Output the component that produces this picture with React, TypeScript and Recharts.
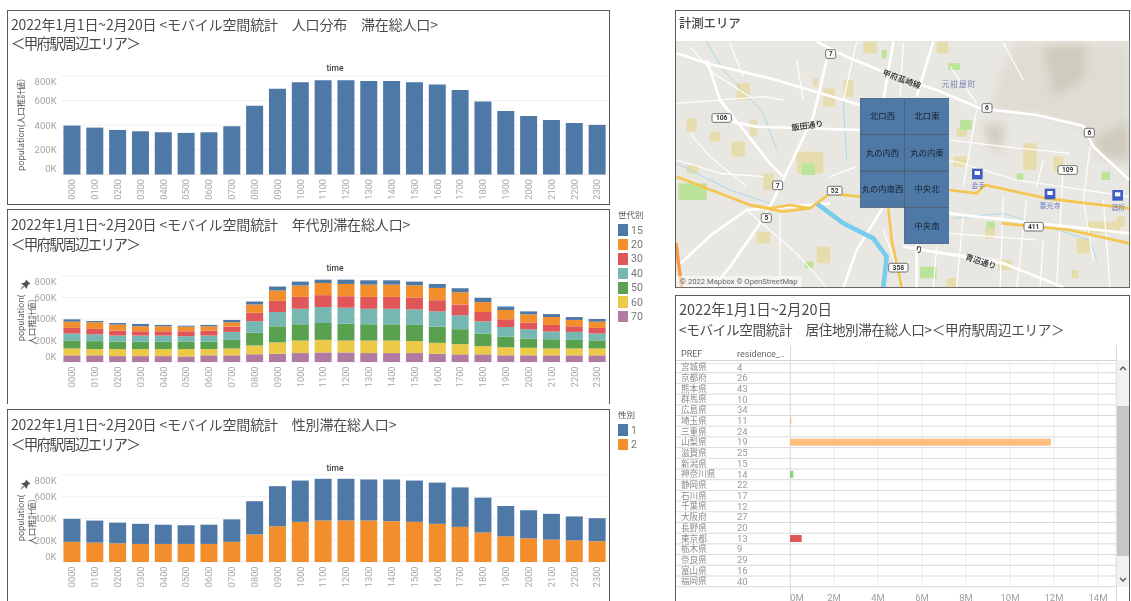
import React from "react";
import { BarChart, Bar, XAxis, YAxis, CartesianGrid, Cell, LabelList } from "recharts";

const FONT = '"Noto Sans CJK JP", "Noto Sans", sans-serif';
const HOURS = ["0000","0100","0200","0300","0400","0500","0600","0700","0800","0900","1000","1100","1200","1300","1400","1500","1600","1700","1800","1900","2000","2100","2200","2300"];
const Y_TICKS = [0, 200000, 400000, 600000, 800000];

const TOTAL = [397,381,362,351,343,338,343,392,559,697,749,765,765,759,759,749,730,686,592,516,476,443,419,403];
const AGE70 = [62,62,55,55,55,52,62,62,71,77,83,89,89,83,83,83,77,71,71,62,62,62,62,62];
const AGE60 = [64,58,65,65,65,68,58,64,83,105,117,117,111,117,117,111,101,95,77,76,70,64,64,64];
const AGE50 = [74,74,68,68,68,68,68,80,117,150,151,157,157,151,151,151,151,139,117,96,86,86,80,74];
const AGE40 = [65,64,58,58,58,52,58,74,107,133,144,148,148,144,144,144,142,129,113,92,87,71,74,65];
const AGE30 = [52,50,46,40,40,46,46,49,80,104,111,111,107,111,111,111,104,101,87,71,61,62,52,52];
const AGE20 = [58,61,56,46,46,43,40,40,77,96,105,113,114,114,114,114,114,114,92,86,77,73,59,58];
const AGE15 = [22,12,15,22,13,9,13,22,28,37,37,31,40,40,40,34,37,37,40,34,28,28,27,25];
const SEX2 = [185,178,172,166,166,166,166,185,252,329,369,382,382,382,375,369,351,323,271,237,218,206,200,191];
const SEX1 = [212,203,190,185,177,172,177,207,307,368,380,383,383,377,384,380,379,363,321,279,258,237,219,212];

const AGE_NAMES = ["15","20","30","40","50","60","70"];
const AGE_COLORS = ["#4e79a7","#f28e2b","#e15759","#76b7b2","#59a14f","#edc948","#b07aa1"];
const SEX_NAMES = ["1","2"];
const SEX_COLORS = ["#4e79a7","#f28e2b"];

const PREFS = ["宮城県","京都府","熊本県","群馬県","広島県","埼玉県","三重県","山梨県","滋賀県","新潟県","神奈川県","静岡県","石川県","千葉県","大阪府","長野県","東京都","栃木県","奈良県","富山県","福岡県"];
const RESIDENCE = ["4","26","43","10","34","11","24","19","25","15","14","22","17","12","27","20","13","9","29","16","40"];
const PREF_VALUES = [0,0,0,0,0,0.06,0,11.86,0,0,0.15,0,0,0,0,0,0.53,0,0,0,0];
const PREF_COLORS = ["#ffbe7d","#ffbe7d","#ffbe7d","#ffbe7d","#ffbe7d","#ffbe7d","#ffbe7d","#ffbe7d","#ffbe7d","#ffbe7d","#8cd17d","#ffbe7d","#ffbe7d","#ffbe7d","#ffbe7d","#ffbe7d","#e15759","#ffbe7d","#ffbe7d","#ffbe7d","#ffbe7d"];
const M_TICKS = [0,2,4,6,8,10,12,14];

const AREA_COLUMNS = ["西","東"];
const AREA_ROW1 = ["北口西","北口東"];
const AREA_ROW2 = ["丸の内西","丸の内東"];
const AREA_ROW3 = ["丸の内南西","中央北"];
const AREA_ROW4 = ["","中央南"];
const AREA_ROW4_SIZE = [1,1];

const TITLE_1 = "2022年1月1日~2月20日 <モバイル空間統計　人口分布　滞在総人口>";
const TITLE_2 = "2022年1月1日~2月20日 <モバイル空間統計　年代別滞在総人口>";
const TITLE_3 = "2022年1月1日~2月20日 <モバイル空間統計　性別滞在総人口>";
const TITLE_AREA = "＜甲府駅周辺エリア＞";
const TITLE_MAP = "計測エリア";
const TITLE_5A = "2022年1月1日~2月20日";
const TITLE_5B = "<モバイル空間統計　居住地別滞在総人口>＜甲府駅周辺エリア＞";

const totalRows = HOURS.map((h, i) => ({ h, total: TOTAL[i] * 1000 }));
const ageRows = HOURS.map((h, i) => ({
  h, a70: AGE70[i] * 1000, a60: AGE60[i] * 1000, a50: AGE50[i] * 1000, a40: AGE40[i] * 1000,
  a30: AGE30[i] * 1000, a20: AGE20[i] * 1000, a15: AGE15[i] * 1000,
}));
const sexRows = HOURS.map((h, i) => ({ h, s2: SEX2[i] * 1000, s1: SEX1[i] * 1000 }));
const prefRows = PREFS.map((p, i) => ({ p, r: RESIDENCE[i], v: PREF_VALUES[i] * 1e6, c: PREF_COLORS[i] }));
const areaRows = AREA_COLUMNS.map((c, i) => ({
  c, r4: AREA_ROW4_SIZE[i], r3: 1, r2: 1, r1: 1,
  n4: AREA_ROW4[i], n3: AREA_ROW3[i], n2: AREA_ROW2[i], n1: AREA_ROW1[i],
}));

const abs = (l: number, t: number, w?: number, h?: number): React.CSSProperties => ({ position: "absolute", left: l, top: t, width: w, height: h });

const kFmt = (v: number) => `${Math.round(v / 1000)}K`;

function PopYTick({ x, y, payload }: any) {
  const v = payload.value;
  const dy = v === 0 ? -5.5 : v === 800000 ? 5.5 : 0;
  return <text x={x - 4} y={y + dy} dy={3.3} textAnchor="end" fontSize={9.5} fill="#a4a4a4" fontFamily="Roboto">{kFmt(v)}</text>;
}
function HourTick({ x, y, payload }: any) {
  return <text transform={`translate(${x + 3.2},${y + 4.5}) rotate(-90)`} textAnchor="end" fontSize={9.2} fill="#a8a8a8" fontFamily="Roboto">{payload.value}</text>;
}

function ChartFrame({ data, top, bottom, height, children, width = 620 }: any) {
  return (
    <BarChart data={data} width={width} height={height} style={abs(0, top)} barCategoryGap="12.5%"
      margin={{ top: 6, left: 10.6, right: width - 608.6, bottom: 0 }}>
      <CartesianGrid horizontal vertical={false} stroke="#f1f1f1" />
      <XAxis dataKey="h" interval={0} tick={<HourTick />} tickLine={false} tickSize={0} tickMargin={0} axisLine={false} height={bottom} />
      <YAxis width={50} domain={[0, 800000]} ticks={Y_TICKS} interval={0} tick={<PopYTick />} tickLine={false} tickSize={0} tickMargin={0} axisLine={false} />
      {children}
    </BarChart>
  );
}

function LegendBox({ x, y, title, names, colors }: any) {
  return (
    <div style={{ ...abs(x, y, 40), fontFamily: FONT }}>
      <div style={{ fontSize: 8.5, color: "#555", lineHeight: "10px", marginBottom: 4 }}>{title}</div>
      {names.map((n: string, i: number) => (
        <div key={n} style={{ display: "flex", alignItems: "center", height: 14.4 }}>
          <span style={{ width: 10, height: 11.5, background: colors[i], display: "inline-block", marginRight: 3 }} />
          <span style={{ fontSize: 10.5, color: "#777", fontFamily: "Roboto" }}>{n}</span>
        </div>
      ))}
    </div>
  );
}

const Title = ({ x, y, text, size = 14, spacing = -0.15, weight = 400 }: any) => (
  <div style={{ ...abs(x, y), fontFamily: FONT, fontSize: size, fontWeight: weight, letterSpacing: spacing, color: "#4a4a4a", whiteSpace: "pre", lineHeight: "20px" }}>{text}</div>
);
const TimeLabel = ({ y }: any) => (
  <div style={{ ...abs(61, y, 548), textAlign: "center", fontFamily: "Roboto", fontSize: 8.5, fontWeight: 500, color: "#444", lineHeight: "10px" }}>time</div>
);
const RotLabel = ({ cx, cy, text, size = 8.5 }: any) => (
  <div style={{ ...abs(cx - 60, cy - 6, 120, 12), textAlign: "center", transform: "rotate(-90deg)", fontFamily: FONT, fontSize: size, color: "#555", lineHeight: "12px", whiteSpace: "nowrap" }}>{text}</div>
);
const Pin = ({ x, y }: any) => (
  <svg style={abs(x, y, 12, 12)} viewBox="0 0 12 12"><path d="M7 0.5 L11.5 5 L9.5 5.5 L8 8 L8 10 L2 4 L4.5 4 L6.5 2.5 Z M4 7 L1 11 L5 8 Z" fill="#555" /></svg>
);

/* ---- map backdrop (decoration: drawn in a 3x coordinate system of the panel) ---- */
const MAP_BLOCKS = ["200,250,240,300","120,395,150,425","185,425,225,470","50,355,80,395","240,360,260,410","430,235,445,260","520,240,550,290","460,265,495,320","580,125,620,160","800,125,835,160","835,190,870,210","880,360,905,390","860,385,890,410","1060,430,1100,510","1150,470,1180,515","850,470,890,500","380,455,460,520","280,520,310,570","50,495,85,520","260,695,300,730","440,740,480,790","1250,665,1350,700","1220,715,1260,760","985,780,1025,810","1205,810,1225,835","830,835,860,862","945,680,975,715","1340,650,1365,680"];
const MAP_PARKS = ["25,550,110,600","395,490,435,525","870,360,905,390","835,190,870,210","635,150,650,175","1040,520,1060,540","1295,515,1320,540","950,665,975,685","750,800,800,835","405,785,430,805"];
const MAP_HILLS = ["1040,130,1378,130,1378,510,1290,470,1230,380,1120,345,960,330,990,230","930,360,1010,370,1000,470,950,440"];
const MAP_HILL_SHADES = ["1120,140,1250,130,1240,240,1150,290","1270,420,1378,360,1378,480,1300,470","950,370,1000,380,990,440,960,430"];
const MAP_WIDE = ["440,125 530,170 640,215 800,270 930,325 1100,345 1240,378 1270,440 1378,540","20,160 110,190 300,235 570,315","130,355 260,380 570,390","470,180 430,350 310,600 270,670 180,800 130,862","670,125 640,300","790,125 740,290","110,180 150,300 300,490 340,530","20,800 130,700 230,630 480,610","740,730 740,862","640,620 560,750 520,862","700,740 1000,790 1180,862","836,640 1378,700"];
const MAP_THIN = ["20,310 150,300 280,290 340,300","380,180 400,300","560,125 520,300","20,480 150,520 280,530","230,630 380,760 470,862","60,140 130,220 240,290","1000,590 990,862","920,330 880,560","1180,500 1160,862","1260,440 1240,600 1270,780","1070,600 1040,862","840,700 1100,720","840,760 990,780","880,640 860,862","800,740 790,862","1000,130 1060,240","840,480 1040,540 1378,590","640,690 700,860","330,640 330,860","60,400 120,470 230,560","180,130 220,230","700,130 690,290","840,200 920,310","840,420 1000,440 1200,460","1100,560 1120,480","1300,600 1320,860","1120,720 1110,860","560,500 480,530"];
const MAP_YELLOW = ["20,530 240,615 340,635 420,625 480,580 570,590","240,615 300,625 360,615 420,625","836,570 920,580 945,555 1130,595 1378,625","655,625 665,720 695,862","995,670 1200,690 1378,730"];
const MAP_RIVER = "440,610 520,670 610,715 650,770 640,862";
const MAP_BROOK = ["110,125 160,210 280,340 320,450","520,300 530,480","20,490 180,570 300,610","850,655 1000,640 1260,720 1280,780"];
const MAP_SHIELDS = [["7",482,162],["106",155,354],["6",951,324],["6",1258,398],["109",1193,510],["7",323,556],["52",494,572],["5",289,654],["411",1091,680],["358",685,803]];
const MAP_STATIONS = [[922,522,"金手",925,557],[1140,582,"善光寺",1140,617],[1343,586,"酒折",1345,622]];

const rect = (s: string) => { const [a, b, c, d] = s.split(",").map(Number); return { x: a, y: b, width: c - a, height: d - b }; };

function MapBackdrop() {
  return (
    <svg style={abs(670, 0, 461, 295)} viewBox="0 0 1383 885">
      <defs>
        <clipPath id="mapclip"><rect x="18" y="122" width="1360" height="740" /></clipPath>
        <filter id="soft"><feGaussianBlur stdDeviation="14" /></filter>
      </defs>
      <g clipPath="url(#mapclip)">
        <rect x="18" y="122" width="1360" height="740" fill="#e9e7e2" />
        <g filter="url(#soft)">
          {MAP_HILLS.map((p, i) => <polygon key={i} points={p} fill="#dfdcd3" />)}
          {MAP_HILL_SHADES.map((p, i) => <polygon key={i} points={p} fill="#cfcbbd" />)}
        </g>
        {MAP_BLOCKS.map((b, i) => <rect key={i} {...rect(b)} fill="#e7dcab" />)}
        {MAP_PARKS.map((b, i) => <rect key={i} {...rect(b)} fill="#bce39a" />)}
        {MAP_BROOK.map((p, i) => <polyline key={i} points={p} fill="none" stroke="#a9d8ec" strokeWidth={3} />)}
        {MAP_THIN.map((p, i) => <polyline key={i} points={p} fill="none" stroke="#fff" strokeWidth={3.5} />)}
        {MAP_WIDE.map((p, i) => <polyline key={i} points={p} fill="none" stroke="#fff" strokeWidth={8} />)}
        <polyline points={MAP_RIVER} fill="none" stroke="#78cdef" strokeWidth={14} />
        {MAP_YELLOW.map((p, i) => <polyline key={i} points={p} fill="none" stroke="#f5c64f" strokeWidth={8} />)}
        <polyline points="18,730 35,862" fill="none" stroke="#f49a45" strokeWidth={10} />
        {MAP_SHIELDS.map(([t, x, y]: any, i) => {
          const w = String(t).length * 14 + 16;
          return (
            <g key={i}>
              <rect x={x - w / 2} y={y - 13} width={w} height={26} rx={5} fill="#fff" stroke="#555" strokeWidth={2.5} />
              <text x={x} y={y + 7} textAnchor="middle" fontSize={20} fontWeight={700} fontFamily="Roboto" fill="#333">{t}</text>
            </g>
          );
        })}
        {MAP_STATIONS.map(([x, y, t, tx, ty]: any, i) => (
          <g key={i}>
            <rect x={x - 16} y={y - 16} width={32} height={32} fill="#3f5fc4" />
            <rect x={x - 8} y={y - 9} width={16} height={12} fill="#fff" />
            <text x={tx} y={ty + 7} textAnchor="middle" fontSize={21} fontFamily={FONT} fill="#6a80c8">{t}</text>
          </g>
        ))}
        <g fontFamily={FONT} fill="#222" fontSize={24} fontWeight={500}>
          <text transform="translate(636,225) rotate(20)">甲府韮崎線</text>
          <text transform="translate(366,392) rotate(-8)">飯田通り</text>
          <text transform="translate(884,778) rotate(18)">青沼通り</text>
          <text x={736} y={756} fontSize={22}>り</text>
        </g>
        <text x={815} y={262} fontFamily={FONT} fontSize={23} fill="#7682b8" letterSpacing={3}>元紺屋町</text>
        <rect x={18} y={828} width={378} height={34} fill="#ffffff" fillOpacity={0.55} />
        <text x={30} y={852} fontFamily="Roboto" fontSize={23} fill="#666">© 2022 Mapbox © OpenStreetMap</text>
      </g>
    </svg>
  );
}

function AreaLabel(props: any) {
  const { x, y, width, height, value } = props;
  if (!value) return null;
  return <text x={x + width / 2} y={y + height / 2} dy={3} textAnchor="middle" fontSize={8.3} fill="#16202c" fontFamily={FONT}>{value}</text>;
}

function AreaChart() {
  const series = [["r4", "n4"], ["r3", "n3"], ["r2", "n2"], ["r1", "n1"]];
  return (
    <BarChart data={areaRows} width={89} height={146} style={abs(860, 98)} barCategoryGap={0} margin={{ top: 0, right: 0, bottom: 0, left: 0 }}>
      <XAxis dataKey="c" hide />
      <YAxis hide domain={[0, 4]} />
      {series.map(([d, n]) => (
        <Bar key={d} dataKey={d} stackId="a" isAnimationActive={false} stroke="#555c66" strokeWidth={0.8}>
          {areaRows.map((r: any, i) => (
            <Cell key={i} fill={r[n] ? "#4e79a7" : "transparent"} stroke={r[n] ? "#555c66" : "transparent"} />
          ))}
          <LabelList dataKey={n} content={<AreaLabel />} />
        </Bar>
      ))}
    </BarChart>
  );
}

function PrefTick({ y, payload }: any) {
  const i = PREFS.indexOf(payload.value);
  return (
    <g>
      <text x={5} y={y + 3} fontSize={8.6} fill="#8a8a8a" fontFamily={FONT}>{payload.value}</text>
      <text x={61} y={y + 3.2} fontSize={9.5} fill="#9a9a9a" fontFamily="Roboto">{RESIDENCE[i]}</text>
      <line x1={0} x2={440} y1={y + 5.35} y2={y + 5.35} stroke="#d9d9d9" strokeWidth={1} />
    </g>
  );
}
function MTick({ x, y, payload }: any) {
  const dx = payload.value === 0 ? 7 : 0;
  return <text x={x + dx} y={y + 6} textAnchor="middle" fontSize={9.5} fill="#a0a0a0" fontFamily="Roboto">{payload.value / 1e6}M</text>;
}

function PrefChart() {
  return (
    <BarChart data={prefRows} layout="vertical" width={1116 - 676 + 8} height={240} style={abs(676, 362)}
      barCategoryGap="17%" margin={{ top: 0, right: 8, bottom: 0, left: 0 }}>
      <CartesianGrid horizontal={false} vertical stroke="#ececec" />
      <XAxis type="number" domain={[0, 14818182]} ticks={M_TICKS.map((m) => m * 1e6)} interval={0} tick={<MTick />} tickLine={false} axisLine={false} height={15.3} />
      <YAxis type="category" dataKey="p" width={114} interval={0} tick={<PrefTick />} tickLine={false} axisLine={false} />
      <Bar dataKey="v" isAnimationActive={false}>
        {prefRows.map((r, i) => <Cell key={i} fill={r.c} />)}
      </Bar>
    </BarChart>
  );
}

const panel = (l: number, t: number, w: number, h: number, extra: any = {}) => ({ ...abs(l, t, w, h), border: "1px solid #5a5a5a", boxSizing: "border-box" as const, background: "#fff", ...extra });
const openPanel = (l: number, t: number, w: number, h: number) => ({ ...abs(l, t, w, h), borderTop: "1px solid #5a5a5a", borderLeft: "1px solid #5a5a5a", borderRight: "1px solid #5a5a5a", boxSizing: "border-box" as const });

export default function App() {
  return (
    <div style={{ position: "fixed", left: 0, top: 0, width: 1131, height: 601, overflow: "hidden", background: "#fff", filter: "blur(0.45px)" }}>
      {/* panel 1 */}
      <div style={panel(7, 10, 603, 195)} />
      <Title x={11} y={14} text={TITLE_1} />
      <Title x={11} y={33} text={TITLE_AREA} size={14.5} spacing={-1.7} />
      <TimeLabel y={63} />
      <RotLabel cx={20} cy={125} text="population(人口推計値)" size={8.5} />
      <ChartFrame data={totalRows} top={70} height={135} bottom={30.5}>
        <Bar dataKey="total" fill="#4e79a7" isAnimationActive={false} />
      </ChartFrame>

      {/* panel 2 */}
      <div style={openPanel(7, 209, 603, 195)} />
      <Title x={11} y={214} text={TITLE_2} />
      <Title x={11} y={234} text={TITLE_AREA} size={14.5} spacing={-1.7} />
      <TimeLabel y={263} />
      <RotLabel cx={20} cy={318} text="population(" size={8.5} />
      <RotLabel cx={31} cy={322} text="人口推計値)" size={8.5} />
      <Pin x={19} y={279} />
      <ChartFrame data={ageRows} top={270} height={134} bottom={42}>
        {["a70", "a60", "a50", "a40", "a30", "a20", "a15"].map((k) => (
          <Bar key={k} dataKey={k} stackId="s" fill={AGE_COLORS[AGE_NAMES.indexOf(k.slice(1))]} isAnimationActive={false} />
        ))}
      </ChartFrame>
      <LegendBox x={618} y={209} title="世代別" names={AGE_NAMES} colors={AGE_COLORS} />

      {/* panel 3 */}
      <div style={openPanel(7, 409, 603, 192)} />
      <Title x={11} y={414} text={TITLE_3} />
      <Title x={11} y={434} text={TITLE_AREA} size={14.5} spacing={-1.7} />
      <TimeLabel y={463} />
      <RotLabel cx={20} cy={518} text="population(" size={8.5} />
      <RotLabel cx={31} cy={522} text="人口推計値)" size={8.5} />
      <Pin x={19} y={479} />
      <ChartFrame data={sexRows} top={469} height={132} bottom={39}>
        <Bar dataKey="s2" stackId="s" fill={SEX_COLORS[1]} isAnimationActive={false} />
        <Bar dataKey="s1" stackId="s" fill={SEX_COLORS[0]} isAnimationActive={false} />
      </ChartFrame>
      <LegendBox x={618} y={409} title="性別" names={SEX_NAMES} colors={SEX_COLORS} />

      {/* map */}
      <div style={panel(675, 10, 455, 278)} />
      <Title x={679} y={13} text={TITLE_MAP} size={12.5} spacing={-0.2} weight={500} />
      <MapBackdrop />
      <AreaChart />

      {/* prefectures */}
      <div style={openPanel(675, 295, 455, 306)} />
      <Title x={679} y={299} text={TITLE_5A} size={14.5} spacing={0} />
      <Title x={679} y={319} text={TITLE_5B} size={13.6} spacing={-0.35} />
      <div style={{ ...abs(681, 348), fontFamily: "Roboto", fontSize: 9, color: "#666", lineHeight: "12px" }}>PREF</div>
      <div style={{ ...abs(737, 348), fontFamily: "Roboto", fontSize: 9, color: "#666", lineHeight: "12px" }}>residence_..</div>
      <div style={{ ...abs(676, 360, 440, 2), borderTop: "1px solid #d4d4d4", borderBottom: "1px solid #e4e4e4" }} />
      <div style={{ ...abs(790, 345, 1, 256), background: "#d8d8d8" }} />
      <div style={{ ...abs(1116, 345, 1, 256), background: "#d8d8d8" }} />
      <PrefChart />
      <div style={{ ...abs(1117, 360, 12, 227), background: "#f1f1f1" }} />
      <div style={{ ...abs(1117, 406, 12, 150), background: "#c6c6c6" }} />
      <svg style={abs(1117, 362, 12, 225)} viewBox="0 0 12 225">
        <polyline points="3,8 6,5 9,8" fill="none" stroke="#555" strokeWidth={1.3} />
        <polyline points="3,216 6,219 9,216" fill="none" stroke="#555" strokeWidth={1.3} />
      </svg>
    </div>
  );
}
